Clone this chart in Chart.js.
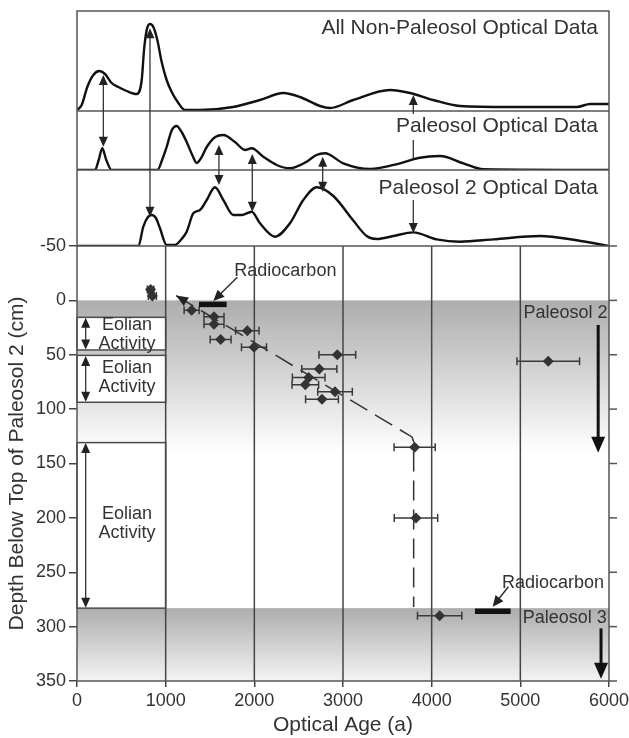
<!DOCTYPE html>
<html>
<head>
<meta charset="utf-8">
<script src="https://cdn.jsdelivr.net/npm/chart.js@4.4.0/dist/chart.umd.min.js"></script>
<style>
  html, body { margin: 0; padding: 0; background: #fff; }
</style>
</head>
<body>
<canvas id="chart" width="629" height="738"></canvas>
<script>
// ---- density curves (relative probability) ----
const allAges = [0, 53, 116, 184, 251, 316, 391, 466, 560, 673, 730, 756, 786, 823, 861, 906, 955, 1011, 1068, 1143, 1218, 1387, 1760, 2064, 2327, 2515, 2740, 2853, 3116, 3530, 3756, 4018, 4319, 4883, 5636, 5786, 6000];
const allDensity = [0.01, 0.06, 0.24, 0.36, 0.40, 0.37, 0.28, 0.24, 0.20, 0.17, 0.31, 0.61, 0.81, 0.87, 0.84, 0.71, 0.49, 0.31, 0.19, 0.08, 0.01, 0.01, 0.04, 0.11, 0.18, 0.14, 0.05, 0.03, 0.11, 0.21, 0.18, 0.11, 0.05, 0.04, 0.04, 0.07, 0.07];

const paleoAges = [0, 203, 245, 285, 330, 391, 906, 960, 1011, 1070, 1124, 1180, 1237, 1300, 1350, 1400, 1463, 1560, 1650, 1782, 1895, 1970, 2101, 2252, 2402, 2590, 2700, 2797, 3003, 3304, 3643, 3850, 4094, 4357, 4582, 6000];
const paleoDensity = [0, 0, 0.1, 0.217, 0.1, 0, 0, 0.1, 0.23, 0.4, 0.44, 0.38, 0.28, 0.15, 0.07, 0.12, 0.23, 0.33, 0.35, 0.28, 0.20, 0.217, 0.133, 0.05, 0.017, 0.083, 0.15, 0.167, 0.067, 0.01, 0.067, 0.12, 0.14, 0.067, 0.007, 0];

const p2Ages = [0, 691, 748, 800, 842, 890, 936, 1011, 1105, 1180, 1237, 1312, 1387, 1463, 1556, 1650, 1763, 1857, 1970, 2064, 2233, 2402, 2552, 2703, 2891, 3116, 3267, 3380, 3568, 3793, 4057, 4319, 4695, 5222, 5636, 6000];
const p2Density = [0, 0, 0.193, 0.29, 0.31, 0.28, 0.177, 0.01, 0.01, 0.07, 0.143, 0.327, 0.36, 0.46, 0.587, 0.46, 0.31, 0.31, 0.343, 0.227, 0.093, 0.227, 0.46, 0.587, 0.5, 0.254, 0.10, 0.07, 0.10, 0.136, 0.066, 0.043, 0.066, 0.10, 0.057, 0];

// ---- optical ages with 1-sigma errors ----
const ages = [830, 850, 1293, 1545, 1545, 1620, 1921, 1996, 2936, 2733, 2613, 2575, 2910, 2763, 3808, 3823, 4090, 5315];
const depths = [-10, -4, 9, 15, 22, 36, 28, 43, 50, 63, 71, 77.5, 84, 91, 135, 200, 290, 56];
const ageErrors = [37, 45, 85, 113, 113, 118, 132, 141, 207, 198, 184, 150, 195, 185, 232, 245, 250, 353];

// age-depth trend (dashed)
const trendAges = [1117, 3778, 3797, 3797];
const trendDepths = [-4.4, 125.6, 130, 282];

// radiocarbon ranges
const c14From = [1376, 4488];
const c14To = [1688, 4891];
const c14Depths = [3.7, 285.9];

// eolian intervals (cm)
const eolianTop = [15.6, 50.6, 130.8];
const eolianBottom = [45.6, 93.7, 283];
const ageTicks = [0, 1000, 2000, 3000, 4000, 5000, 6000];

const FONT = '"Liberation Sans", Arial, Helvetica, sans-serif';
const INK = '#333';

const pts = (xs, ys) => xs.map((v, i) => ({ x: v, y: ys[i] }));

function head(ctx, tx, ty, fx, fy, len, half) {
  const a = Math.atan2(ty - fy, tx - fx);
  const c = Math.cos(a), s = Math.sin(a);
  ctx.beginPath();
  ctx.moveTo(tx, ty);
  ctx.lineTo(tx - len * c + half * s, ty - len * s - half * c);
  ctx.lineTo(tx - len * c - half * s, ty - len * s + half * c);
  ctx.closePath();
  ctx.fill();
}

function arrow(ctx, fx, fy, tx, ty, len, half, both) {
  const d = Math.hypot(tx - fx, ty - fy);
  const ux = (tx - fx) / d, uy = (ty - fy) / d;
  ctx.beginPath();
  ctx.moveTo(both ? fx + ux * len * 0.8 : fx, both ? fy + uy * len * 0.8 : fy);
  ctx.lineTo(tx - ux * len * 0.8, ty - uy * len * 0.8);
  ctx.stroke();
  head(ctx, tx, ty, fx, fy, len, half);
  if (both) head(ctx, fx, fy, tx, ty, len, half);
}

// arrows linking peaks between the density panels
const peakLinks = [
  { age: 297, from: ['p1', 0.36], to: ['p2', 0.233] },
  { age: 823, from: ['p1', 0.827], to: ['p3', 0.293] },
  { age: 1601, from: ['p2', 0.25], to: ['p3', 0.61] },
  { age: 1977, from: ['p2', 0.16], to: ['p3', 0.343] },
  { age: 2771, from: ['p2', 0.133], to: ['p3', 0.543] },
  { age: 3793, from: ['p1', 0.16], to: ['p3', 0.13], gaps: [[['p1', -0.03], ['p2', 0.30]], [['p2', 0.12], ['p3', 0.46]]] }
];

const notes = [
  { text: 'All Non-Paleosol Optical Data', axis: 'p1', age: 5876, val: 0.83, align: 'right', size: 21 },
  { text: 'Paleosol Optical Data', axis: 'p2', age: 5876, val: 0.433, align: 'right', size: 21 },
  { text: 'Paleosol 2 Optical Data', axis: 'p3', age: 5876, val: 0.577, align: 'right', size: 21 },
  { text: 'Radiocarbon', axis: 'y', age: 2350, val: -27.3, align: 'center', size: 18 },
  { text: 'Paleosol 2', axis: 'y', age: 5984, val: 11.3, align: 'right', size: 18 },
  { text: 'Radiocarbon', axis: 'y', age: 5943, val: 259.6, align: 'right', size: 18 },
  { text: 'Paleosol 3', axis: 'y', age: 5974, val: 292.3, align: 'right', size: 18 },
  { text: 'Eolian', axis: 'y', age: 565, val: 22.6, align: 'center', size: 18 },
  { text: 'Activity', axis: 'y', age: 565, val: 40.1, align: 'center', size: 18 },
  { text: 'Eolian', axis: 'y', age: 565, val: 62.5, align: 'center', size: 18 },
  { text: 'Activity', axis: 'y', age: 565, val: 79.4, align: 'center', size: 18 },
  { text: 'Eolian', axis: 'y', age: 565, val: 196.7, align: 'center', size: 18 },
  { text: 'Activity', axis: 'y', age: 565, val: 213.6, align: 'center', size: 18 }
];

const decor = {
  id: 'decor',
  beforeDatasetsDraw(chart) {
    const { ctx, chartArea: a, scales: s } = chart;
    const x = s.x, y = s.y;
    ctx.save();

    // paleosol shading
    let y0 = y.getPixelForValue(0), y1 = y.getPixelForValue(140);
    let g = ctx.createLinearGradient(0, y0, 0, y1);
    g.addColorStop(0, '#adadad');
    g.addColorStop(1, '#ffffff');
    ctx.fillStyle = g;
    ctx.fillRect(a.left, y0, a.width, y1 - y0);

    y0 = y.getPixelForValue(283); y1 = y.getPixelForValue(350);
    g = ctx.createLinearGradient(0, y0, 0, y1);
    g.addColorStop(0, '#adadad');
    g.addColorStop(1, '#f4f4f4');
    ctx.fillStyle = g;
    ctx.fillRect(a.left, y0, a.width, y1 - y0);

    // eolian boxes
    ctx.strokeStyle = '#4a4a4a';
    ctx.lineWidth = 1.5;
    eolianTop.forEach((t, i) => {
      const top = y.getPixelForValue(t), bot = y.getPixelForValue(eolianBottom[i]);
      const l = x.getPixelForValue(0), r = x.getPixelForValue(1000);
      ctx.fillStyle = '#fff';
      ctx.fillRect(l, top, r - l, bot - top);
      ctx.strokeRect(l, top, r - l, bot - top);
    });

    // vertical grid lines only in the depth panel
    ctx.strokeStyle = '#444';
    ctx.lineWidth = 1.5;
    ageTicks.slice(1, -1).forEach(t => {
      const px = x.getPixelForValue(t);
      ctx.beginPath();
      ctx.moveTo(px, y.top);
      ctx.lineTo(px, y.bottom);
      ctx.stroke();
    });

    // horizontal error bars
    ctx.strokeStyle = '#3a3a3a';
    ctx.lineWidth = 1.5;
    ages.forEach((v, i) => {
      const l = x.getPixelForValue(v - ageErrors[i]), r = x.getPixelForValue(v + ageErrors[i]);
      const py = y.getPixelForValue(depths[i]);
      ctx.beginPath();
      ctx.moveTo(l, py); ctx.lineTo(r, py);
      ctx.moveTo(l, py - 4); ctx.lineTo(l, py + 4);
      ctx.moveTo(r, py - 4); ctx.lineTo(r, py + 4);
      ctx.stroke();
    });
    ctx.restore();
  },
  afterDatasetsDraw(chart) {
    const { ctx, chartArea: a, scales: s } = chart;
    const x = s.x, y = s.y;
    const P = (ax, v) => s[ax].getPixelForValue(v);
    ctx.save();

    // frame and panel separators
    ctx.strokeStyle = '#555';
    ctx.lineWidth = 1.5;
    ctx.strokeRect(a.left, a.top, a.width, a.height);
    [s.p1.bottom, s.p2.bottom, s.p3.bottom].forEach(py => {
      ctx.beginPath();
      ctx.moveTo(a.left, py); ctx.lineTo(a.right, py);
      ctx.stroke();
    });
    // right-hand tick marks
    y.ticks.forEach(t => {
      const py = y.getPixelForValue(t.value);
      ctx.beginPath();
      ctx.moveTo(a.right, py); ctx.lineTo(a.right + 8, py);
      ctx.stroke();
    });

    // peak links
    ctx.strokeStyle = '#333';
    ctx.fillStyle = '#222';
    ctx.lineWidth = 1.3;
    peakLinks.forEach(k => {
      const px = x.getPixelForValue(k.age);
      const top = P(k.from[0], k.from[1]), bot = P(k.to[0], k.to[1]);
      const cuts = [top];
      (k.gaps || []).forEach(gp => { cuts.push(P(gp[0][0], gp[0][1]), P(gp[1][0], gp[1][1])); });
      cuts.push(bot);
      for (let i = 0; i < cuts.length; i += 2) {
        const s0 = i === 0 ? cuts[i] + 8 : cuts[i];
        const s1 = i + 2 >= cuts.length ? cuts[i + 1] - 8 : cuts[i + 1];
        ctx.beginPath();
        ctx.moveTo(px, s0); ctx.lineTo(px, s1);
        ctx.stroke();
      }
      head(ctx, px, top, px, top + 20, 10, 4.5);
      head(ctx, px, bot, px, bot - 20, 10, 4.5);
    });

    // eolian double arrows
    eolianTop.forEach((t, i) => {
      const px = x.getPixelForValue(98);
      arrow(ctx, px, y.getPixelForValue(t) + 0.5, px, y.getPixelForValue(eolianBottom[i]) - 0.5, 10, 4.5, true);
    });

    // radiocarbon pointers
    ctx.lineWidth = 1.5;
    arrow(ctx, x.getPixelForValue(1808), y.getPixelForValue(-21.2), x.getPixelForValue(1537), y.getPixelForValue(0.5), 11, 5, false);
    arrow(ctx, x.getPixelForValue(4865), y.getPixelForValue(263.3), x.getPixelForValue(4688), y.getPixelForValue(281.7), 11, 5, false);
    // head of the trend line
    head(ctx, x.getPixelForValue(trendAges[0]), y.getPixelForValue(trendDepths[0]),
      x.getPixelForValue(trendAges[1]), y.getPixelForValue(trendDepths[1]), 12, 5);

    // paleosol arrows
    ctx.lineWidth = 3;
    ctx.strokeStyle = '#111';
    ctx.fillStyle = '#111';
    arrow(ctx, x.getPixelForValue(5878), y.getPixelForValue(22.6), x.getPixelForValue(5878), y.getPixelForValue(140), 16, 7, false);
    arrow(ctx, x.getPixelForValue(5910), y.getPixelForValue(301.6), x.getPixelForValue(5910), y.getPixelForValue(348), 16, 7, false);

    // text
    ctx.fillStyle = INK;
    ctx.textBaseline = 'middle';
    notes.forEach(n => {
      ctx.font = n.size + 'px ' + FONT;
      ctx.textAlign = n.align;
      ctx.fillText(n.text, x.getPixelForValue(n.age), P(n.axis, n.val));
    });
    ctx.restore();
  }
};

const curve = (xs, ys, axis) => ({
  data: pts(xs, ys), yAxisID: axis, borderColor: '#111', borderWidth: 2.4,
  pointRadius: 0, tension: 0.4, cubicInterpolationMode: 'monotone', fill: false
});

const panelAxis = (max, weight, stackWeight) => ({
  type: 'linear', position: 'left', stack: 'v', stackWeight: stackWeight, weight: weight,
  display: false, min: 0, max: max,
  afterFit: sc => { sc.width = 77; sc.paddingTop = 0; sc.paddingBottom = 0; }
});

new Chart(document.getElementById('chart'), {
  type: 'line',
  data: {
    datasets: [
      curve(allAges, allDensity, 'p1'),
      curve(paleoAges, paleoDensity, 'p2'),
      curve(p2Ages, p2Density, 'p3'),
      {
        data: pts(trendAges, trendDepths), yAxisID: 'y', borderColor: '#333', borderWidth: 1.5,
        borderDash: [20, 9], pointRadius: 0, tension: 0
      },
      {
        data: [{ x: c14From[0], y: c14Depths[0] }, { x: c14To[0], y: c14Depths[0] }], yAxisID: 'y',
        borderColor: '#111', borderWidth: 5.5, borderCapStyle: 'butt', pointRadius: 0
      },
      {
        data: [{ x: c14From[1], y: c14Depths[1] }, { x: c14To[1], y: c14Depths[1] }], yAxisID: 'y',
        borderColor: '#111', borderWidth: 5.5, borderCapStyle: 'butt', pointRadius: 0
      },
      {
        data: pts(ages, depths), yAxisID: 'y', showLine: false,
        pointStyle: 'rectRot', pointRadius: 5.5, backgroundColor: '#333', borderColor: '#333', borderWidth: 0
      }
    ]
  },
  options: {
    responsive: false,
    animation: false,
    devicePixelRatio: 1,
    layout: { padding: { left: 0, right: 20, top: 11, bottom: 0 } },
    plugins: { legend: { display: false }, tooltip: { enabled: false } },
    scales: {
      x: {
        type: 'linear', min: 0, max: 6000,
        afterBuildTicks: sc => { sc.ticks = ageTicks.map(v => ({ value: v })); },
        ticks: { color: INK, font: { family: FONT, size: 18 }, padding: 3, maxRotation: 0, callback: v => String(v) },
        grid: { drawOnChartArea: false, tickLength: 6, color: '#444', lineWidth: 1.5 },
        border: { display: false },
        title: { display: true, text: 'Optical Age (a)', color: INK, font: { family: FONT, size: 21 }, padding: { top: 0, bottom: 0 } },
        afterFit: sc => { sc.height = 57; sc.paddingLeft = 0; sc.paddingRight = 0; }
      },
      y: {
        type: 'linear', position: 'left', stack: 'v', stackWeight: 435, weight: 1,
        reverse: true, min: -50, max: 350,
        ticks: { stepSize: 50, color: INK, font: { family: FONT, size: 18 }, padding: 3, callback: v => String(v) },
        grid: { drawOnChartArea: false, tickLength: 8, color: '#444', lineWidth: 1.5 },
        border: { display: false },
        title: { display: true, text: 'Depth Below Top of Paleosol 2 (cm)', color: INK, font: { family: FONT, size: 21 }, padding: { top: 5, bottom: 0 } },
        afterFit: sc => { sc.width = 77; sc.paddingTop = 0; sc.paddingBottom = 0; }
      },
      p3: panelAxis(0.76, 2, 76),
      p2: panelAxis(0.59, 3, 59),
      p1: panelAxis(1.0, 4, 100)
    }
  },
  plugins: [decor]
});
</script>
</body>
</html>
